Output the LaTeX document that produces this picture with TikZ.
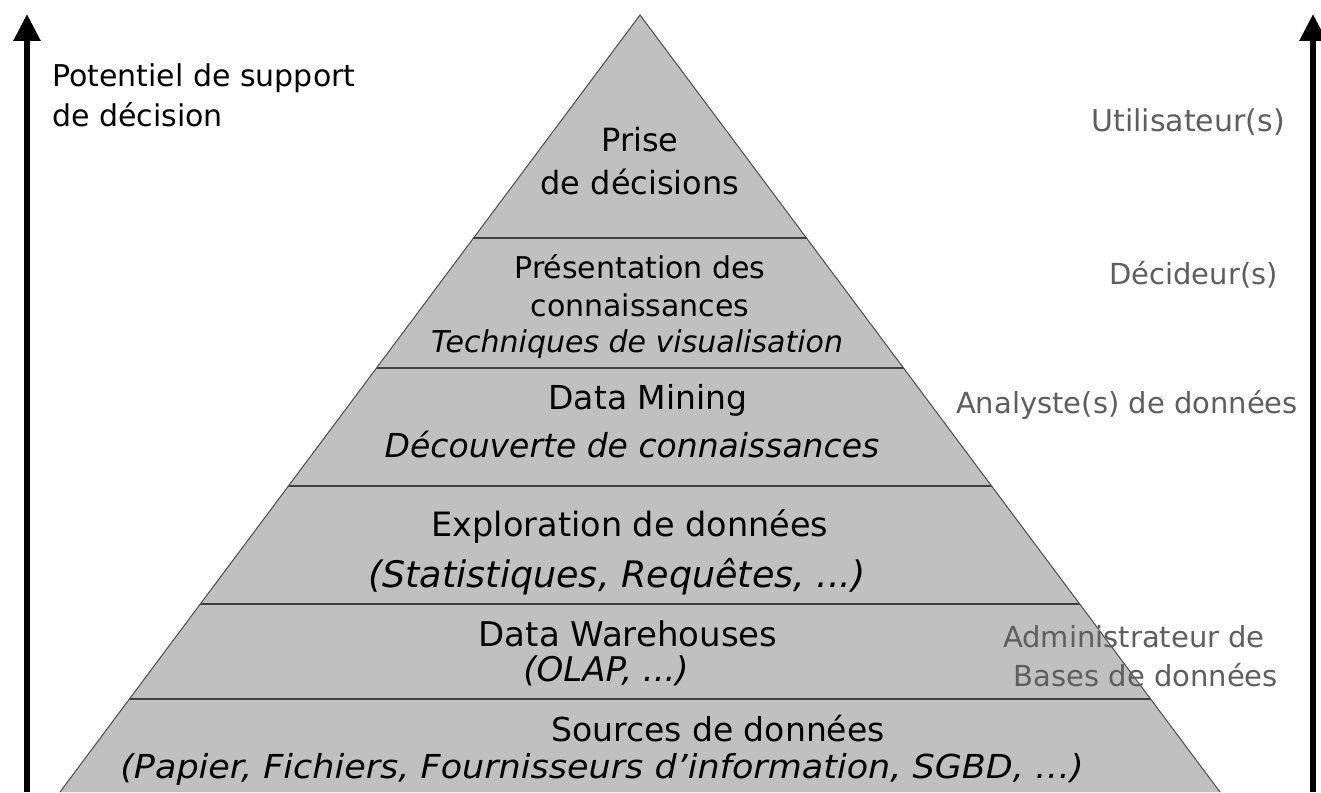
\documentclass[tikz,border=0pt]{standalone}
\usepackage{fontspec}
\setmainfont{DejaVu Sans}
\usepackage{tikz}
\usetikzlibrary{arrows.meta}
\definecolor{pyrgray}{HTML}{C0C0C0}
\definecolor{rolegray}{HTML}{5E5E5E}
\tikzset{
  lvl/.style={inner sep=0pt, font=\fontsize{32}{38}\selectfont},
  lvlit/.style={lvl, font=\fontsize{30}{36}\selectfont\itshape},
  role/.style={inner sep=0pt, text=rolegray, font=\fontsize{29}{34}\selectfont},
  axis/.style={line width=6pt, -{Triangle[length=27pt,width=26pt]}},
}

\begin{document}
\begin{tikzpicture}[x=1pt,y=-1pt]
\useasboundingbox (0,0) rectangle (1321,792);
% pyramide
\fill[pyrgray] (640,15) -- (60,792) -- (1220,792) -- cycle;
\begin{scope}
\clip (640,15) -- (60,792) -- (1220,792) -- cycle;
\foreach \y in {238,368,486,604,699}
  \draw[line width=1.3pt, black!75] (0,\y) -- (1321,\y);
\end{scope}
\draw[line width=1pt, black!70] (60,792) -- (640,15) -- (1220,792);
% axes
\coordinate (lbot) at (27,792);
\coordinate (ltop) at (27,14);
\coordinate (rbot) at (1313,792);
\coordinate (rtop) at (1313,14);
\draw[axis] (lbot) -- (ltop);
\draw[axis] (rbot) -- (rtop);
% niveaux
\node[lvl] (prise) at (640,140) {Prise};
\node[lvl] (decis) at (640,182) {de décisions};
\node[lvl, font=\fontsize{30}{36}\selectfont] (pres) at (640,267) {Présentation des};
\node[lvl, font=\fontsize{30}{36}\selectfont] (conn) at (640,305) {connaissances};
\node[lvlit] (visu) at (637,344) {Techniques de visualisation};
\node[lvl, font=\fontsize{33}{38}\selectfont] (dm) at (648,400) {Data Mining};
\node[lvlit, font=\fontsize{33}{38}\selectfont\itshape] (decouv) at (632,445) {Découverte de connaissances};
\node[lvl, font=\fontsize{33.5}{40}\selectfont] (explo) at (630,527) {Exploration de données};
\node[lvlit, font=\fontsize{36.5}{42}\selectfont\itshape] (stats) at (617,577) {(Statistiques, Requêtes, ...)};
\node[lvl, font=\fontsize{34}{40}\selectfont] (dw) at (628,634) {Data Warehouses};
\node[lvlit, font=\fontsize{34}{40}\selectfont\itshape] (olap) at (606,671) {(OLAP, ...)};
\node[lvl, font=\fontsize{33}{38}\selectfont] (src) at (718,729) {Sources de données};
\node[lvlit, font=\fontsize{33}{38}\selectfont\itshape] (papier) at (602,769)
  {\scalebox{1.06}[1]{(Papier, Fichiers, Fournisseurs d’information, SGBD, …)}};
% potentiel
\node[lvl, anchor=west, font=\fontsize{30}{36}\selectfont] (pot1) at (52,78) {Potentiel de support};
\node[lvl, anchor=west, font=\fontsize{30}{36}\selectfont] (pot2) at (52,115) {de décision};
% acteurs
\node[role, anchor=east, font=\fontsize{30}{35}\selectfont] (util) at (1285,122) {Utilisateur(s)};
\node[role, anchor=east] (decid) at (1278,275) {Décideur(s)};
\node[role, anchor=east] (analy) at (1298,405) {Analyste(s) de données};
\node[role, anchor=east] (admin) at (1265,637) {Administrateur de};
\node[role, anchor=east] (bases) at (1278,675) {Bases de données};
\end{tikzpicture}
\end{document}
